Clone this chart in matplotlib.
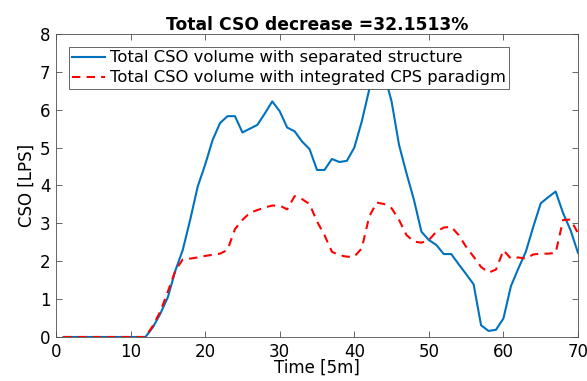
import matplotlib
matplotlib.use('Agg')
import matplotlib.pyplot as plt

plt.rcParams['font.family'] = ['DejaVu Sans']

# time steps [5m]
t = list(range(1, 71))

# CSO volume, separated structure
cso_sep = [0, 0, 0, 0, 0, 0, 0, 0, 0, 0,
           0, 0, 0.26, 0.62, 1.05, 1.75, 2.3, 3.1, 3.97, 4.55,
           5.2, 5.65, 5.83, 5.83, 5.4, 5.5, 5.6, 5.9, 6.22, 5.96,
           5.53, 5.43, 5.16, 4.96, 4.41, 4.41, 4.7, 4.62, 4.65, 5.0,
           5.69, 6.53, 7.1, 6.95, 6.22, 5.07, 4.32, 3.62, 2.78, 2.56,
           2.43, 2.19, 2.19, 1.92, 1.66, 1.39, 0.31, 0.16, 0.19, 0.49,
           1.34, 1.81, 2.25, 2.91, 3.53, 3.69, 3.84, 3.27, 2.82, 2.22]

# CSO volume, integrated CPS paradigm
cso_cps = [0, 0, 0, 0, 0, 0, 0, 0, 0, 0,
           0, 0, 0.3, 0.68, 1.2, 1.75, 2.05, 2.07, 2.1, 2.14,
           2.17, 2.2, 2.3, 2.85, 3.09, 3.28, 3.35, 3.42, 3.47, 3.47,
           3.37, 3.72, 3.64, 3.51, 3.05, 2.69, 2.25, 2.16, 2.12, 2.12,
           2.34, 3.18, 3.55, 3.51, 3.4, 3.09, 2.69, 2.52, 2.49, 2.56,
           2.78, 2.89, 2.91, 2.69, 2.38, 2.12, 1.85, 1.7, 1.78, 2.29,
           2.07, 2.1, 2.07, 2.18, 2.2, 2.2, 2.22, 3.09, 3.1, 2.74]

fig = plt.figure(figsize=(5.87, 3.81), dpi=100)
ax = fig.add_axes([0.0954, 0.1155, 0.8893, 0.7953])

ax.plot(t, cso_sep, color='#0072BD', linewidth=1.5,
        label='Total CSO volume with separated structure')
ax.plot(t, cso_cps, color='red', linestyle=(0, (4, 3)), linewidth=1.5,
        label='Total CSO volume with integrated CPS paradigm')

ax.set_xlim(0, 70)
ax.set_ylim(0, 8)
ax.set_xticks(range(0, 71, 10))
ax.set_yticks(range(0, 9))

# matlab-like box
gray = '#4d4d4d'
for s in ax.spines.values():
    s.set_color(gray)
    s.set_linewidth(0.6)
ax.tick_params(direction='in', top=True, right=True, length=4, width=0.6,
               colors=gray, labelsize=12, labelcolor='black', pad=4)

ax.set_xlabel('Time [5m]', fontsize=12, labelpad=-1)
ax.set_ylabel('CSO [LPS]', fontsize=12, labelpad=3)
ax.set_title('Total CSO decrease =32.1513%', fontsize=12.3, fontweight='bold', pad=3)

leg = ax.legend(loc='upper left', fontsize=11.8, handlelength=2.0,
                borderaxespad=0.8, borderpad=0.2, labelspacing=0.3,
                handletextpad=0.3, fancybox=False, framealpha=1)
leg.get_frame().set_edgecolor(gray)
leg.get_frame().set_linewidth(0.6)

fig.savefig('out.png', dpi=100)
